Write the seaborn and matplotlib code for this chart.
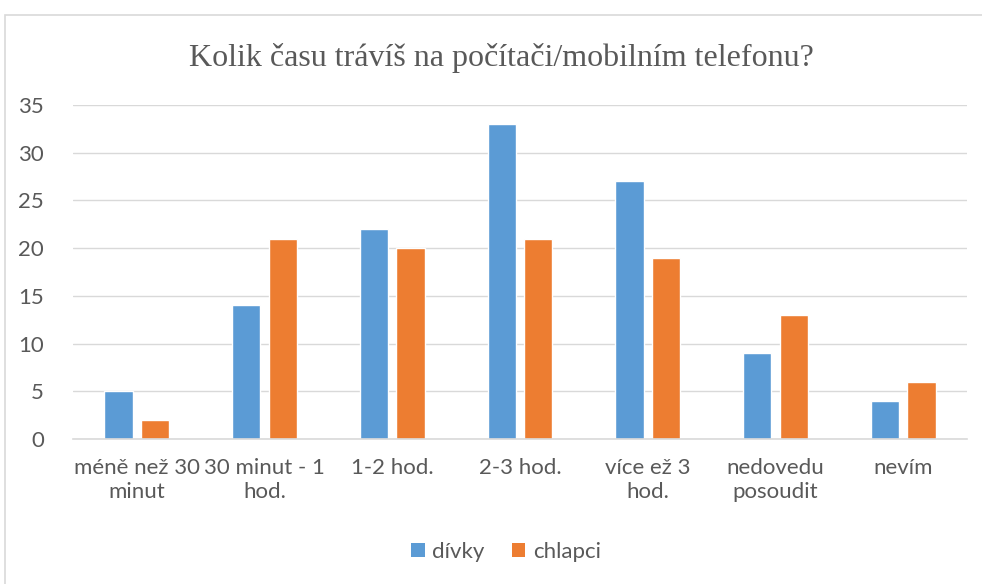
import matplotlib
matplotlib.use("Agg")
import matplotlib.pyplot as plt
import seaborn as sns
import pandas as pd
from matplotlib.patches import Rectangle, Patch

categories = ["méně než 30\nminut", "30 minut - 1\nhod.", "1-2 hod.", "2-3 hod.",
              "více ež 3\nhod.", "nedovedu\nposoudit", "nevím"]
divky = [5, 14, 22, 33, 27, 9, 4]
chlapci = [2, 21, 20, 21, 19, 13, 6]
series_names = ["dívky", "chlapci"]
yticks = [0, 5, 10, 15, 20, 25, 30, 35]
title = "Kolik času trávíš na počítači/mobilním telefonu?"

df = pd.DataFrame({
    "kategorie": categories * 2,
    "hodnota": divky + chlapci,
    "skupina": [series_names[0]] * len(categories) + [series_names[1]] * len(categories),
})

sns.set_theme(style="white")
plt.rcParams['font.family'] = ['Lato', 'DejaVu Sans']

fig = plt.figure(figsize=(9.82, 5.84), dpi=100)
ax = fig.add_axes([73/982, 1 - 439/584, (967-73)/982, (439-105)/584])

colors = {"dívky": "#5B9BD5", "chlapci": "#ED7D31"}
sns.barplot(data=df, x="kategorie", y="hodnota", hue="skupina", palette=colors,
            width=0.573, gap=0.23, saturation=1, ax=ax, legend=False, zorder=3)

ax.set_ylim(0, 35)
ax.set_xlim(-0.5, len(categories) - 0.5)
ax.set_yticks(yticks)
ax.set_yticklabels([str(v) for v in yticks])
ax.yaxis.grid(True, color="#d9d9d9", linewidth=1, zorder=0)
ax.set_axisbelow(True)
for s in ["top", "right", "left"]:
    ax.spines[s].set_visible(False)
ax.spines["bottom"].set_color("#d9d9d9")
ax.spines["bottom"].set_linewidth(1.2)
ax.spines["bottom"].set_zorder(4)
ax.set_xlabel("")
ax.set_ylabel("")
ax.tick_params(axis="both", length=0, labelsize=16, labelcolor="#595959")
ax.tick_params(axis="y", pad=21)
ax.tick_params(axis="x", pad=14)

fig.text(501/982, 1 - 58/584, title, ha="center", va="center", fontsize=23,
         color="#595959", family=["Liberation Serif"])

handles = [Patch(facecolor=colors[n], edgecolor="none", label=n) for n in series_names]
fig.legend(handles=handles, loc="center", bbox_to_anchor=(506/982, 1 - 552/584), ncol=2,
           frameon=False, fontsize=16, labelcolor="#595959", handlelength=0.6,
           handleheight=0.6, handletextpad=0.35, columnspacing=1.2)

fig.patches.append(Rectangle((5/982, -0.02), 1.0, 1 - 15/584 + 0.02, transform=fig.transFigure,
                             fill=False, edgecolor="#d9d9d9", linewidth=1.2, zorder=0))

fig.savefig("out.png", dpi=100)
